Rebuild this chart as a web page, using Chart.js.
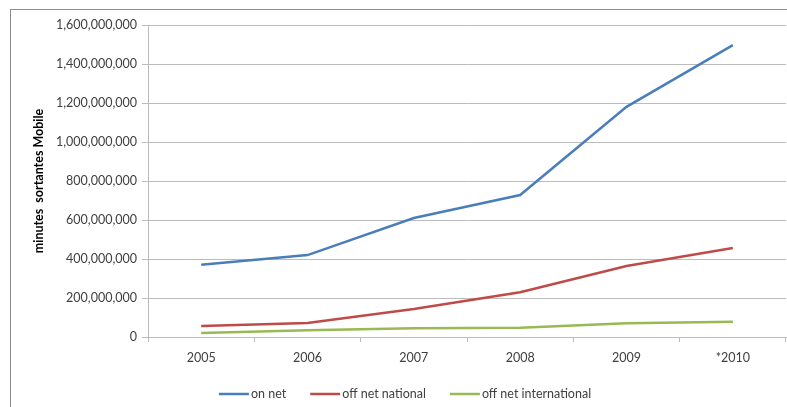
<!DOCTYPE html>
<html>
<head>
<meta charset="utf-8">
<script src="https://cdn.jsdelivr.net/npm/chart.js@4/dist/chart.umd.min.js"></script>
<style>
    html, body { margin: 0; padding: 0; background: #ffffff; }
    #wrap { width: 787px; height: 407px; position: relative; }
</style>
</head>
<body>
<div id="wrap"><canvas id="minutesChart"></canvas></div>
<script>
// Data
const years = ['2005', '2006', '2007', '2008', '2009', '*2010'];
const onNet = [370000000, 420000000, 610000000, 728000000, 1180000000, 1497000000];
const offNetNational = [56000000, 72000000, 144000000, 230000000, 364000000, 456000000];
const offNetInternational = [20000000, 35000000, 45000000, 48000000, 70000000, 78000000];

const colors = {
    blue: '#4a7ebb',
    red: '#be4b48',
    green: '#98b954',
    grid: '#bcbcbc',
    text: '#404040',
    frame: '#8c8c8c'
};

const fontFamily = 'Lato, "Open Sans", sans-serif';

// Outer chart frame (cropped on the right and bottom in the reference)
const framePlugin = {
    id: 'frame',
    beforeDraw(chart) {
        const ctx = chart.ctx;
        ctx.save();
        ctx.strokeStyle = colors.frame;
        ctx.lineWidth = 1;
        ctx.strokeRect(10.5, 9.5, chart.width + 20, chart.height + 20);
        ctx.restore();
    }
};

// Excel-style legend: short line right next to the label, wide gaps between items
const lineLegendPlugin = {
    id: 'lineLegend',
    afterDraw(chart) {
        const ctx = chart.ctx;
        const lineLen = 30, textGap = 2, itemGap = 24;
        const centerX = 405, y = 394;
        ctx.save();
        ctx.font = '12.5px ' + fontFamily;
        const items = chart.data.datasets.map(ds => ({
            label: ds.label,
            color: ds.borderColor,
            width: lineLen + textGap + ctx.measureText(ds.label).width
        }));
        const total = items.reduce((s, it) => s + it.width, 0) + itemGap * (items.length - 1);
        let x = centerX - total / 2;
        items.forEach(it => {
            ctx.strokeStyle = it.color;
            ctx.lineWidth = 2.5;
            ctx.beginPath();
            ctx.moveTo(x, y);
            ctx.lineTo(x + lineLen, y);
            ctx.stroke();
            ctx.fillStyle = colors.text;
            ctx.textBaseline = 'middle';
            ctx.textAlign = 'left';
            ctx.fillText(it.label, x + lineLen + textGap, y);
            x += it.width + itemGap;
        });
        ctx.restore();
    }
};

const makeSet = (label, data, color) => ({
    label: label,
    data: data,
    borderColor: color,
    backgroundColor: color,
    borderWidth: 2.5,
    pointRadius: 0,
    pointHoverRadius: 0,
    tension: 0,
    fill: false
});

new Chart(document.getElementById('minutesChart'), {
    type: 'line',
    data: {
        labels: years,
        datasets: [
            makeSet('on net', onNet, colors.blue),
            makeSet('off net national', offNetNational, colors.red),
            makeSet('off net international', offNetInternational, colors.green)
        ]
    },
    plugins: [framePlugin, lineLegendPlugin],
    options: {
        responsive: true,
        maintainAspectRatio: false,
        animation: false,
        layout: {
            padding: { left: 27, right: 1, top: 25, bottom: 34 }
        },
        plugins: {
            tooltip: { enabled: false },
            legend: { display: false }
        },
        scales: {
            x: {
                offset: true,
                grid: {
                    offset: true,
                    drawOnChartArea: false,
                    drawTicks: true,
                    tickLength: 5,
                    color: colors.grid
                },
                border: { color: colors.grid },
                ticks: {
                    color: colors.text,
                    padding: 8,
                    maxRotation: 0,
                    font: { family: fontFamily, size: 12.5 }
                }
            },
            y: {
                min: 0,
                max: 1600000000,
                afterFit: (scale) => { scale.width = 121; },
                grid: {
                    color: colors.grid,
                    tickLength: 6
                },
                border: { color: colors.grid },
                ticks: {
                    stepSize: 200000000,
                    color: colors.text,
                    padding: 5,
                    font: { family: fontFamily, size: 12.5 },
                    callback: (value) => value.toLocaleString('en-US')
                },
                title: {
                    display: true,
                    text: 'minutes  sortantes Mobile',
                    color: '#000000',
                    padding: { top: 4, bottom: 0 },
                    font: { family: fontFamily, size: 12.5, weight: 'bold' }
                }
            }
        }
    }
});
</script>
</body>
</html>
